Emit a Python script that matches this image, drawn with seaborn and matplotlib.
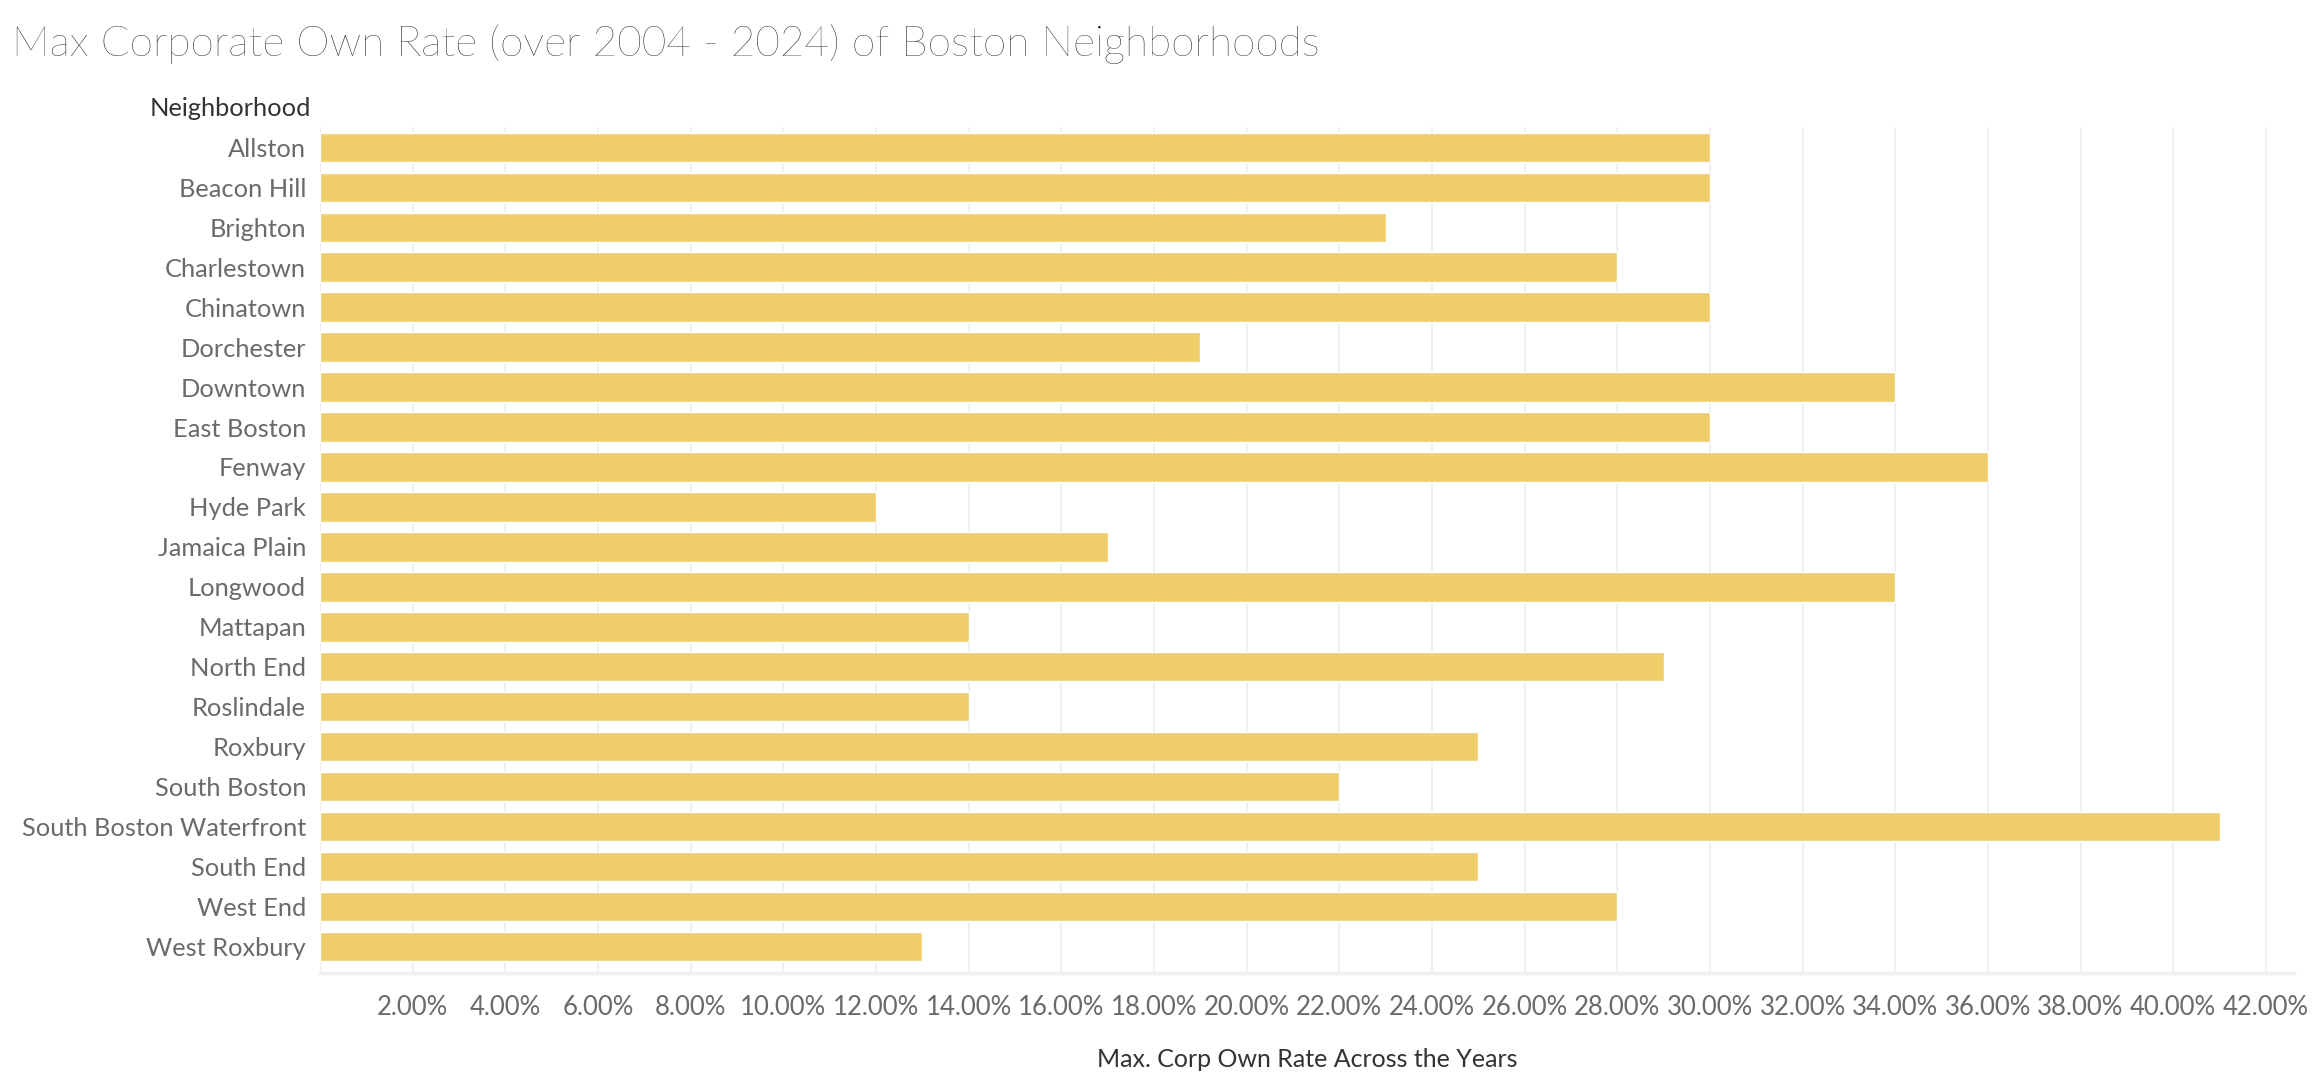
import matplotlib
matplotlib.use("Agg")
import matplotlib.pyplot as plt
import seaborn as sns
import pandas as pd

neighborhoods = ["Allston", "Beacon Hill", "Brighton", "Charlestown", "Chinatown",
                 "Dorchester", "Downtown", "East Boston", "Fenway", "Hyde Park",
                 "Jamaica Plain", "Longwood", "Mattapan", "North End", "Roslindale",
                 "Roxbury", "South Boston", "South Boston Waterfront", "South End",
                 "West End", "West Roxbury"]
max_rate = [30, 30, 23, 28, 30, 19, 34, 30, 36, 12, 17, 34, 14, 29, 14,
            25, 22, 41, 25, 28, 13]
tick_vals = list(range(0, 43, 2))
tick_labels = ["" if v == 0 else f"{v:.2f}%" for v in tick_vals]

df = pd.DataFrame({"Neighborhood": neighborhoods, "Rate": max_rate})

sns.set_style("white")
plt.rcParams['font.family'] = ['Lato', 'DejaVu Sans']

fig = plt.figure(figsize=(23.22, 10.8), dpi=100)
ax = fig.add_axes([0.1378, 0.099, 0.850, 0.783])

sns.barplot(data=df, y="Neighborhood", x="Rate", color="#EFCD69",
            saturation=1, width=0.74, orient="h", ax=ax)

ax.set_xlim(0, 42.6)
ax.set_ylim(len(neighborhoods) - 0.33, -0.5)
ax.set_xticks(tick_vals)
ax.set_xticklabels(tick_labels, fontsize=18.5, color="#6a6a6a")
ax.tick_params(axis="x", length=8, width=1.2, color="#EBEBEB", pad=8)
ax.tick_params(axis="y", length=0, pad=10, labelsize=18.3, labelcolor="#6a6a6a")
ax.grid(axis="x", color="#EFEFEF", linewidth=1.3)
ax.set_axisbelow(True)
for s in ["top", "right", "left"]:
    ax.spines[s].set_visible(False)
ax.spines["bottom"].set_color("#F0F0F0")
ax.spines["bottom"].set_linewidth(2.5)

ax.set_ylabel("")
ax.set_xlabel("Max. Corp Own Rate Across the Years", fontsize=18,
              color="#333333", labelpad=20)
fig.text(0.1339, 1 - 108 / 1080, "Neighborhood", ha="right", va="center",
         fontsize=18.3, color="#333333")
fig.text(0.005, 1 - 44 / 1080, "Max Corporate Own Rate (over 2004 - 2024) of Boston Neighborhoods",
         ha="left", va="center", fontsize=30.5, color="#000000", fontweight="light")

fig.savefig("out.png", dpi=100, facecolor="white")
